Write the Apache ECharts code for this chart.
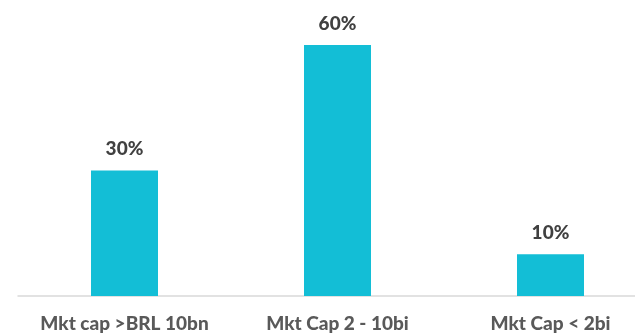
<!DOCTYPE html>
<html><head><meta charset="utf-8">
<script src="https://cdn.jsdelivr.net/npm/echarts@6/dist/echarts.min.js"></script>
<style>html,body{margin:0;padding:0;background:#fff;overflow:hidden}#c{width:657px;height:335px}</style>
</head><body><div id="c"></div>
<script>
const categories = ['Mkt cap >BRL 10bn', 'Mkt Cap 2 - 10bi', 'Mkt Cap < 2bi'];
const values = [30, 60, 10];
const chart = echarts.init(document.getElementById('c'), null, {renderer: 'canvas'});
chart.setOption({
  animation: false,
  grid: {left: 18, right: 0, top: 45, bottom: 39, containLabel: false},
  xAxis: {
    type: 'category', data: categories,
    axisLine: {lineStyle: {color: '#d9d9d9', width: 1.5}},
    axisTick: {show: false},
    axisLabel: {color: '#595959', fontFamily: 'Lato', fontWeight: 900, fontSize: 19, margin: 18, interval: 0}
  },
  yAxis: {type: 'value', min: 0, max: 60, show: false, splitLine: {show: false}},
  series: [{
    type: 'bar', data: values, barWidth: 67,
    itemStyle: {color: '#13BED6'},
    label: {show: true, position: 'top', distance: 12, formatter: '{c}%', color: '#404040', fontFamily: 'Lato', fontWeight: 900, fontSize: 19}
  }]
});
</script></body></html>
